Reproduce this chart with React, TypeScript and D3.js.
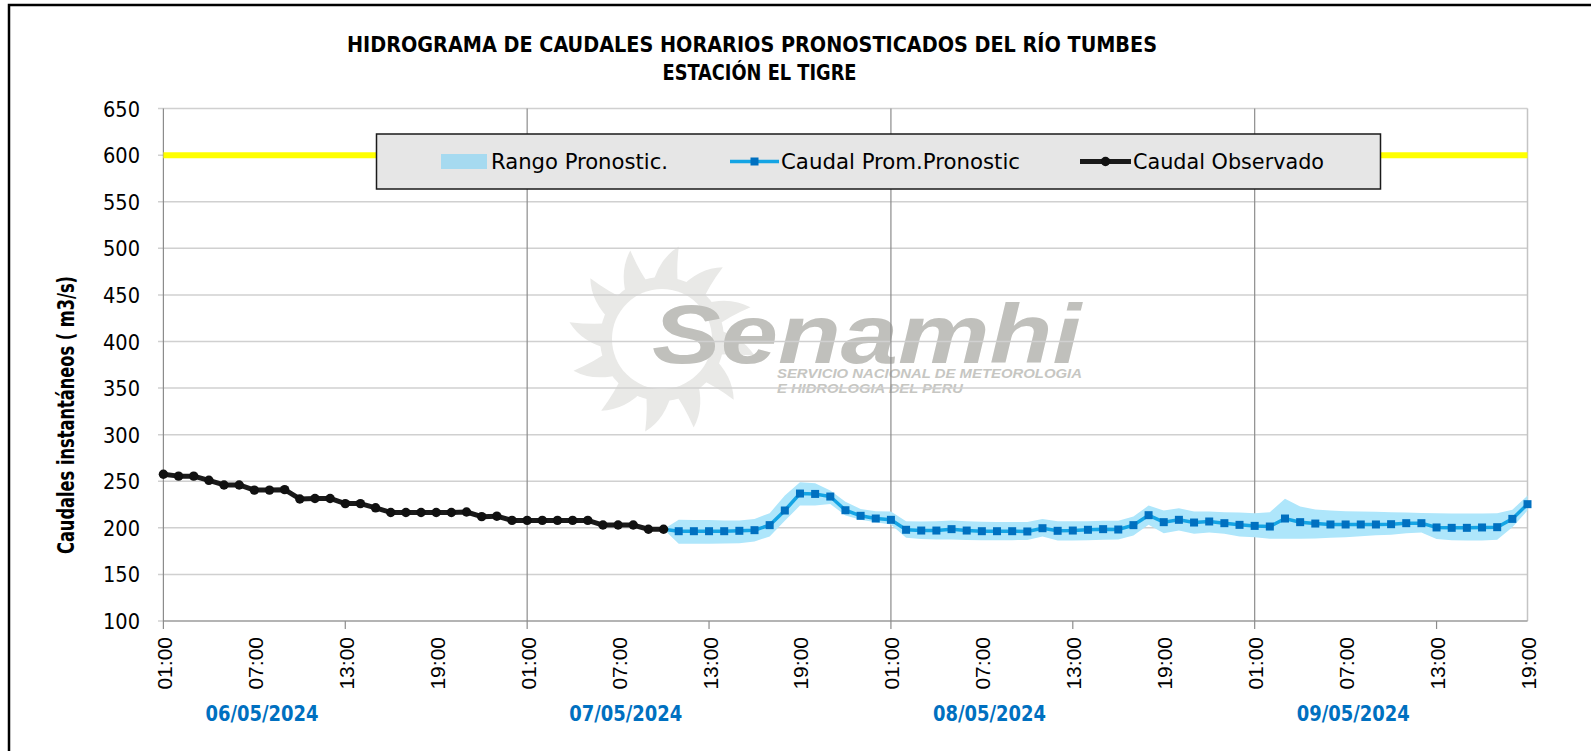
import React from "react";
import * as d3 from "d3";

// caudal observado, horario desde 01:00 del 06/05/2024 (hora 0)
const observado = [
  257.5, 255.5, 255.5, 251, 246, 246, 240.5, 240.5, 241, 231, 231.5, 231.5,
  226, 226, 221.5, 216.5, 216.5, 216.5, 216.5, 216.5, 217, 212, 212.5, 208,
  208, 208, 208, 208, 208, 203, 203, 203, 198.5, 198.5,
];

// pronostico, empieza en la hora 33 (10:00 del 07/05)
const inicioPronostico = 33;
const promedio = [
  198.5, 196.4, 196.4, 196.4, 196.4, 196.8, 197.5, 202.9, 218.6, 236.8, 236.4,
  233.6, 218.9, 212.9, 210, 208.6, 197.9, 197.1, 197.1, 198.6, 197.1, 196.4,
  196.4, 196.4, 196.1, 199.6, 196.8, 197.1, 197.9, 198.6, 198.2, 202.9, 213.6,
  206.1, 208.6, 205.7, 206.8, 205, 203.2, 202.1, 201.4, 210, 206.1, 204.6,
  203.6, 203.6, 203.6, 203.6, 203.9, 205, 205, 200.4, 200, 200, 200.4, 200.7,
  209.6, 225.4,
];
const rangoMax = [
  198.5, 208.6, 208.5, 208.3, 208, 208, 209.6, 215.7, 234.6, 248.9, 247.8, 240,
  228, 220.3, 217.9, 217.5, 207.1, 206.8, 207, 208, 207, 206.5, 206.3, 206.3,
  206.3, 209.6, 207, 207, 207.2, 207.5, 207.5, 212.1, 223.9, 218.6, 221, 217.5,
  217.5, 216.8, 216.4, 215.7, 216.8, 231.1, 222.9, 219.6, 218.6, 217.9, 217.5,
  217.2, 216.8, 216.4, 216, 215.7, 215.4, 215.4, 215.4, 215.7, 219.3, 234.6,
];
const rangoMin = [
  198.5, 182.9, 183, 183, 183.2, 183.5, 185.4, 190.7, 207.5, 223.9, 224, 225.7,
  213.2, 208.6, 206, 203.6, 189.3, 188, 187.5, 187.5, 187, 186.8, 186.8, 186.8,
  187, 190.7, 186.4, 186.4, 186.8, 187.1, 187.5, 191.8, 203.2, 194.3, 197.1,
  193.6, 195, 193.6, 190.7, 190, 188.2, 188.2, 188.2, 188.6, 189.3, 190, 191,
  192.1, 192.5, 194.3, 195, 187.9, 186.8, 186.4, 186.4, 187.1, 200.7, 218.6,
];

const umbral = 600;
const yTicks = [100, 150, 200, 250, 300, 350, 400, 450, 500, 550, 600, 650];
const horas = ["01:00", "07:00", "13:00", "19:00"];
const fechas = ["06/05/2024", "07/05/2024", "08/05/2024", "09/05/2024"];

const FONT = "'DejaVu Sans Condensed', 'Liberation Sans Narrow', 'Arial Narrow', sans-serif";
const FONT_TICK = "'Liberation Sans', Arial, sans-serif";

function Watermark() {
  // logo senamhi en gris de fondo
  const cx = 662;
  const cy = 339;
  const rays = d3.range(12).map((i) => {
    const a = (i / 12) * Math.PI * 2;
    const p = (ang: number, r: number) => [cx + r * Math.cos(ang), cy + r * Math.sin(ang)];
    const [x1, y1] = p(a - 0.2, 52);
    const [qx, qy] = p(a - 0.05, 80);
    const [tx, ty] = p(a + 0.18, 94);
    const [q2x, q2y] = p(a + 0.2, 70);
    const [x2, y2] = p(a + 0.32, 52);
    return `M${x1},${y1}Q${qx},${qy} ${tx},${ty}Q${q2x},${q2y} ${x2},${y2}Z`;
  });
  return (
    <g>
      <circle cx={cx} cy={cy} r={62} fill="#e9e9e7" />
      {rays.map((d, i) => (
        <path key={i} d={d} fill="#e9e9e7" />
      ))}
      <circle cx={cx} cy={cy} r={50} fill="#ffffff" />
      <text x={652} y={363} fontFamily="'Liberation Sans', Arial, sans-serif" fontWeight="bold"
        fontStyle="italic" fontSize={84} fill="#c0c0bc" textLength={429} lengthAdjust="spacingAndGlyphs">
        Senamhi
      </text>
      <text x={777} y={378} fontFamily="'Liberation Sans', Arial, sans-serif" fontWeight="bold"
        fontStyle="italic" fontSize={12} fill="#c6c6c2" textLength={305} lengthAdjust="spacingAndGlyphs">
        SERVICIO NACIONAL DE METEOROLOGIA
      </text>
      <text x={777} y={393} fontFamily="'Liberation Sans', Arial, sans-serif" fontWeight="bold"
        fontStyle="italic" fontSize={12} fill="#c6c6c2" textLength={186} lengthAdjust="spacingAndGlyphs">
        E HIDROLOGIA DEL PERU
      </text>
    </g>
  );
}

export default function App() {
  const width = 1591;
  const height = 751;

  const x = d3.scaleLinear().domain([0, 90]).range([163.4, 1527.5]);
  const y = d3.scaleLinear().domain([100, 650]).range([621, 108.6]);

  const horaTicks = d3.range(0, 91, 6);
  const majorTicks = d3.range(0, 91, 12);
  const dias = [24, 48, 72];

  const banda = d3
    .area<number>()
    .x((_, i) => x(inicioPronostico + i))
    .y0((_, i) => y(rangoMin[i]))
    .y1((_, i) => y(rangoMax[i]))
    .curve(d3.curveLinear);

  const lineaProm = d3
    .line<number>()
    .x((_, i) => x(inicioPronostico + i))
    .y((d) => y(d));

  const lineaObs = d3
    .line<number>()
    .x((_, i) => x(i))
    .y((d) => y(d));

  const legendY = 161.5;

  return (
    <svg width={width} height={height} style={{ position: "absolute", left: 0, top: 0, background: "#fff" }}>
      <rect x={0} y={0} width={width} height={height} fill="#ffffff" />
      {/* marco */}
      <rect x={9} y={5} width={1700} height={900} fill="none" stroke="#000" strokeWidth={2.5} />

      {/* titulo */}
      <text x={752} y={52} textAnchor="middle" fontFamily={FONT} fontWeight="bold" fontSize={21}
        textLength={810} lengthAdjust="spacingAndGlyphs">
        HIDROGRAMA DE CAUDALES HORARIOS PRONOSTICADOS DEL RÍO TUMBES
      </text>
      <text x={759.5} y={80} textAnchor="middle" fontFamily={FONT} fontWeight="bold" fontSize={21}
        textLength={194} lengthAdjust="spacingAndGlyphs">
        ESTACIÓN EL TIGRE
      </text>

      <Watermark />

      {/* grilla horizontal */}
      {yTicks.map((t) => (
        <g key={t}>
          <line x1={158} x2={x(90)} y1={y(t)} y2={y(t)} stroke="#d0d0d0" strokeWidth={1.5} />
          <text x={140} y={y(t) + 8} textAnchor="end" fontFamily={FONT} fontSize={22} fill="#000"
            textLength={37} lengthAdjust="spacingAndGlyphs">
            {t}
          </text>
        </g>
      ))}
      {/* grilla vertical por dia */}
      {dias.map((h) => (
        <line key={h} x1={x(h)} x2={x(h)} y1={y(650)} y2={y(100)} stroke="#8c8c8c" strokeWidth={1.2} />
      ))}
      <line x1={x(90)} x2={x(90)} y1={y(650)} y2={y(100)} stroke="#c4c4c4" strokeWidth={1.5} />
      <line x1={x(0)} x2={x(0)} y1={y(650)} y2={y(100)} stroke="#8c8c8c" strokeWidth={1.2} />
      <line x1={x(0)} x2={x(90)} y1={y(100)} y2={y(100)} stroke="#8c8c8c" strokeWidth={1.2} />
      {majorTicks.map((h) => (
        <line key={h} x1={x(h)} x2={x(h)} y1={y(100)} y2={y(100) + 8} stroke="#8c8c8c" strokeWidth={1.2} />
      ))}

      {/* etiquetas de hora */}
      {horaTicks.map((h, i) => (
        <text key={h} transform={`translate(${x(h) + 8.5},637) rotate(-90)`} textAnchor="end"
          fontFamily={FONT_TICK} fontSize={21} fill="#000">
          {horas[i % 4]}
        </text>
      ))}
      {/* fechas */}
      {fechas.map((f, i) => (
        <text key={f} x={x(6.5 + 24 * i)} y={721} textAnchor="middle" fontFamily={FONT} fontWeight="bold"
          fontSize={21} fill="#0070c0" textLength={113} lengthAdjust="spacingAndGlyphs">
          {f}
        </text>
      ))}

      {/* titulo eje y */}
      <text transform="translate(74,415) rotate(-90)" textAnchor="middle" fontFamily={FONT} fontWeight="bold"
        fontSize={23} fill="#000" textLength={278} lengthAdjust="spacingAndGlyphs">
        Caudales instantáneos  ( m3/s)
      </text>

      {/* umbral */}
      <line x1={x(0)} x2={x(90)} y1={y(umbral)} y2={y(umbral)} stroke="#ffff00" strokeWidth={6} />

      {/* rango pronostico */}
      <path d={banda(promedio) ?? ""} fill="#aee6fb" />
      <path d={lineaProm(promedio) ?? ""} fill="none" stroke="#14a4e4" strokeWidth={3.5} />
      {promedio.map((v, i) =>
        i === 0 ? null : (
          <rect key={i} x={x(inicioPronostico + i) - 4} y={y(v) - 4} width={8} height={8} fill="#0070c0" />
        )
      )}

      {/* observado */}
      <path d={lineaObs(observado) ?? ""} fill="none" stroke="#1a1a1a" strokeWidth={5} strokeLinejoin="round" />
      {observado.map((v, i) => (
        <circle key={i} cx={x(i)} cy={y(v)} r={4.7} fill="#111" />
      ))}

      {/* leyenda */}
      <rect x={376.5} y={134} width={1004} height={55} fill="#e6e6e6" stroke="#1a1a1a" strokeWidth={1.5} />
      <rect x={441} y={154} width={46} height={15} fill="#a6daf0" />
      <text x={491} y={169} fontFamily={FONT} fontSize={21} textLength={177} lengthAdjust="spacingAndGlyphs">
        Rango Pronostic.
      </text>
      <line x1={730} x2={779} y1={legendY} y2={legendY} stroke="#14a4e4" strokeWidth={3.5} />
      <rect x={750.5} y={legendY - 4} width={8} height={8} fill="#0070c0" />
      <text x={781} y={169} fontFamily={FONT} fontSize={21} textLength={239} lengthAdjust="spacingAndGlyphs">
        Caudal Prom.Pronostic
      </text>
      <line x1={1080} x2={1131} y1={legendY} y2={legendY} stroke="#1a1a1a" strokeWidth={5} />
      <circle cx={1105.5} cy={legendY} r={4.7} fill="#111" />
      <text x={1133} y={169} fontFamily={FONT} fontSize={21} textLength={191} lengthAdjust="spacingAndGlyphs">
        Caudal Observado
      </text>
    </svg>
  );
}
